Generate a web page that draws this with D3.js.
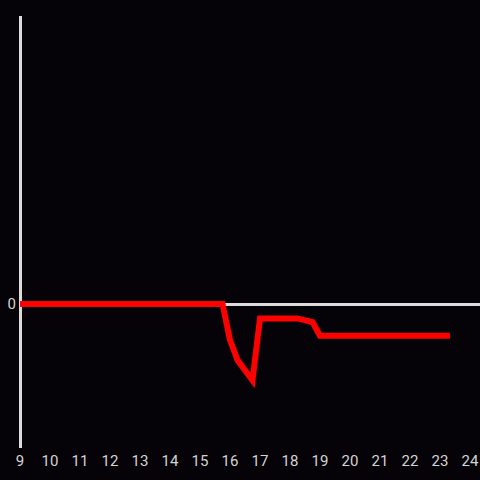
<!DOCTYPE html>
<html>
<head>
<meta charset="utf-8">
<script src="https://cdn.jsdelivr.net/npm/d3@7"></script>
<style>
  html, body { margin: 0; padding: 0; background: #050307; }
  svg { display: block; }
</style>
</head>
<body>
<script>
// hour of day and value
const hours  = [9, 15.75, 16.0, 16.25, 16.75, 17.0, 18.25, 18.75, 19.0, 23.33];
const values = [0, 0, -0.25, -0.39, -0.53, -0.1, -0.1, -0.125, -0.22, -0.22];
const xTicks = [9, 10, 11, 12, 13, 14, 15, 16, 17, 18, 19, 20, 21, 22, 23, 24];
const yTicks = [0];

const width = 480;
const height = 480;

const svg = d3.select("body")
              .append("svg")
              .attr("width", width)
              .attr("height", height);

svg.append("rect")
   .attr("width", width)
   .attr("height", height)
   .attr("fill", "#050307");

const x = d3.scaleLinear().domain([9, 24]).range([20, 470]);
const y = d3.scaleLinear().domain([-1, 2]).range([448, 16]);

// y axis line
svg.append("line")
   .attr("x1", x(9) + 0.5).attr("x2", x(9) + 0.5)
   .attr("y1", y(2)).attr("y2", y(-1))
   .attr("stroke", "#dcdcdc")
   .attr("stroke-width", 3);

// zero line
svg.append("line")
   .attr("x1", x(9)).attr("x2", width)
   .attr("y1", y(0) + 0.5).attr("y2", y(0) + 0.5)
   .attr("stroke", "#dcdcdc")
   .attr("stroke-width", 3);

// x tick labels
svg.append("g")
   .selectAll("text")
   .data(xTicks)
   .enter()
   .append("text")
   .attr("x", d => x(d))
   .attr("y", 466)
   .attr("text-anchor", "middle")
   .attr("fill", "#d4d4d4")
   .style("font-family", "Roboto, sans-serif")
   .style("font-size", "15px")
   .text(d => d);

// y tick labels
svg.append("g")
   .selectAll("text")
   .data(yTicks)
   .enter()
   .append("text")
   .attr("x", 16)
   .attr("y", d => y(d) + 5)
   .attr("text-anchor", "end")
   .attr("fill", "#d4d4d4")
   .style("font-family", "Roboto, sans-serif")
   .style("font-size", "15px")
   .text(d => d);

const line = d3.line()
               .x((d, i) => x(hours[i]))
               .y(d => y(d));

svg.append("path")
   .datum(values)
   .attr("fill", "none")
   .attr("stroke", "#ff0000")
   .attr("stroke-width", 6)
   .attr("stroke-linejoin", "miter")
   .attr("d", line);
</script>
</body>
</html>
